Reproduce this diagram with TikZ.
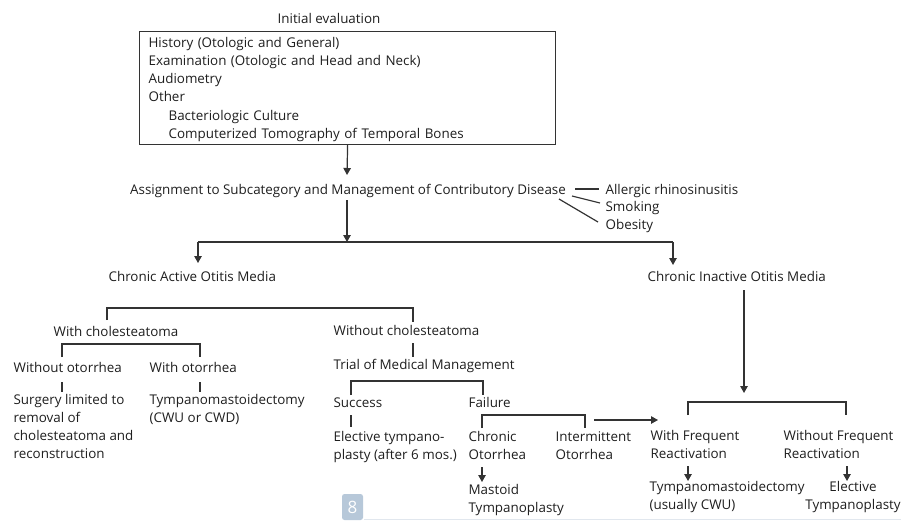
\documentclass[tikz,border=0pt]{standalone}
\usepackage{fontspec}
\setmainfont{Open Sans}
\usetikzlibrary{arrows.meta}
\definecolor{ink}{HTML}{1E1E1E}
\definecolor{wire}{HTML}{333333}
\definecolor{badge}{HTML}{B7C8D9}
\definecolor{rulec}{HTML}{E1E7EE}
\newcommand{\tf}{\fontsize{13.4}{18}\selectfont}
\begin{document}
\begin{tikzpicture}[x=1pt,y=-1pt, color=wire, line width=1.2pt,
  txt/.style={inner sep=0pt, text=ink, font=\tf, align=left},
  lbl/.style={txt, anchor=north west, yshift=9.2pt, execute at begin node=\strut},
  clbl/.style={lbl, anchor=north, align=center},
  arr/.style={-{Triangle[length=7pt,width=7.5pt]}}
]
\useasboundingbox (0,0) rectangle (901,520);

% top
\node[txt, anchor=base] (init) at (329,23) {Initial evaluation};
\node[draw=wire, line width=1.2pt, anchor=north west, inner xsep=9pt, inner ysep=3pt,
      text width=398pt, align=left, text=ink,
      font=\fontsize{13.4}{18.2}\selectfont, execute at begin node=\strut] (box) at (139,31)
  {History (Otologic and General)\\
   Examination (Otologic and Head and Neck)\\
   Audiometry\\
   Other\\
   \hspace*{20pt}Bacteriologic Culture\\
   \hspace*{20pt}Computerized Tomography of Temporal Bones};

\node[txt, anchor=base] (assign) at (348,194) {Assignment to Subcategory and Management of Contributory Disease};
\node[lbl] (allergic) at (605,190) {Allergic rhinosinusitis};
\node[lbl] (smoking) at (605,207) {Smoking};
\node[lbl] (obesity) at (605,225) {Obesity};

\coordinate (b1) at (347,175);
\draw[arr] (box.south) -- (b1);
\coordinate (b2) at (347,200);
\coordinate (sM) at (347,242);
\draw[arr] (b2) -- (sM);

\coordinate (r1s) at (575,189); \coordinate (r1e) at (599,189);
\coordinate (r2s) at (572,196); \coordinate (r2e) at (600,203);
\coordinate (r3s) at (559,199); \coordinate (r3e) at (598,222);
\draw (r1s) -- (r1e);
\draw (r2s) -- (r2e);
\draw (r3s) -- (r3e);

% main split
\coordinate (sL) at (198,242);
\coordinate (sR) at (673,242);
\coordinate (cactTip) at (198,263);
\coordinate (cinTip) at (673,265);
\draw (sL) -- (sR);
\draw[arr] (sL) -- (cactTip);
\draw[arr] (sR) -- (cinTip);

\node[lbl] (cact) at (108,277) {Chronic Active Otitis Media};
\node[lbl] (cinact) at (647,277) {Chronic Inactive Otitis Media};

% active branch
\coordinate (aL) at (107,320); \coordinate (aR) at (413,322);
\draw (aL) |- (aR |- 0,308) -- (aR);
\node[lbl] (withc) at (53,332) {With cholesteatoma};
\node[lbl] (withoutc) at (333,331) {Without cholesteatoma};

\coordinate (bL) at (62,357); \coordinate (bR) at (200,357);
\draw (bL) |- (bR |- 0,344) -- (bR);
\node[lbl] (woo) at (13,368) {Without otorrhea};
\node[lbl] (wo) at (149,368) {With otorrhea};
\coordinate (c1s) at (62,382); \coordinate (c1e) at (62,392);
\coordinate (c2s) at (200,382); \coordinate (c2e) at (200,392);
\draw (c1s) -- (c1e);
\draw (c2s) -- (c2e);
\node[lbl] (surg) at (13,403) {Surgery limited to\\removal of\\cholesteatoma and\\reconstruction};
\node[lbl] (tymp1) at (149,403) {Tympanomastoidectomy\\(CWU or CWD)};

\coordinate (d1s) at (413,343); \coordinate (d1e) at (413,357);
\draw (d1s) -- (d1e);
\node[lbl] (trial) at (333,365) {Trial of Medical Management};
\coordinate (eL) at (351,395); \coordinate (eR) at (483,395);
\draw (eL) |- (eR |- 0,381) -- (eR);
\node[lbl] (success) at (333,403) {Success};
\node[lbl] (failure) at (468,403) {Failure};
\coordinate (f1s) at (351,415); \coordinate (f1e) at (351,427);
\draw (f1s) -- (f1e);
\node[lbl] (elective) at (333,440) {Elective tympano-\\plasty (after 6 mos.)};
\coordinate (gL) at (482,428); \coordinate (gR) at (585,428);
\draw (gL) |- (gR |- 0,415) -- (gR);
\node[lbl] (chronic) at (468,440) {Chronic\\Otorrhea};
\node[lbl] (intermit) at (555,440) {Intermittent\\Otorrhea};
\coordinate (h1s) at (482,467); \coordinate (h1e) at (482,482);
\draw[arr] (h1s) -- (h1e);
\node[lbl] (mastoid) at (468,493) {Mastoid\\Tympanoplasty};
\coordinate (i1s) at (594,420); \coordinate (i1e) at (658,420);
\draw[arr] (i1s) -- (i1e);

% inactive branch
\coordinate (j1s) at (744,290); \coordinate (j1e) at (744,393);
\draw[arr] (j1s) -- (j1e);
\coordinate (kL) at (688,415); \coordinate (kR) at (846,415);
\draw (kL) |- (kR |- 0,402) -- (kR);
\node[lbl] (wfr) at (650,439) {With Frequent\\Reactivation};
\node[lbl] (wofr) at (783,439) {Without Frequent\\Reactivation};
\coordinate (m1s) at (688,466); \coordinate (m1e) at (688,481);
\coordinate (m2s) at (847,466); \coordinate (m2e) at (847,481);
\draw[arr] (m1s) -- (m1e);
\draw[arr] (m2s) -- (m2e);
\node[lbl] (tymp2) at (649,490) {Tympanomastoidectomy\\(usually CWU)};
\node[clbl] (etymp) at (853,490) {Elective\\Tympanoplasty};

% page badge and rule
\coordinate (ru1) at (364,519.5); \coordinate (ru2) at (901,519.5);
\draw[rulec, line width=1pt] (ru1) -- (ru2);
\node[fill=badge, rounded corners=2.5pt, minimum width=21pt, minimum height=26pt,
      inner sep=0pt, text=white, font=\fontsize{17}{20}\selectfont] (page) at (352.5,507) {8};
\end{tikzpicture}
\end{document}
